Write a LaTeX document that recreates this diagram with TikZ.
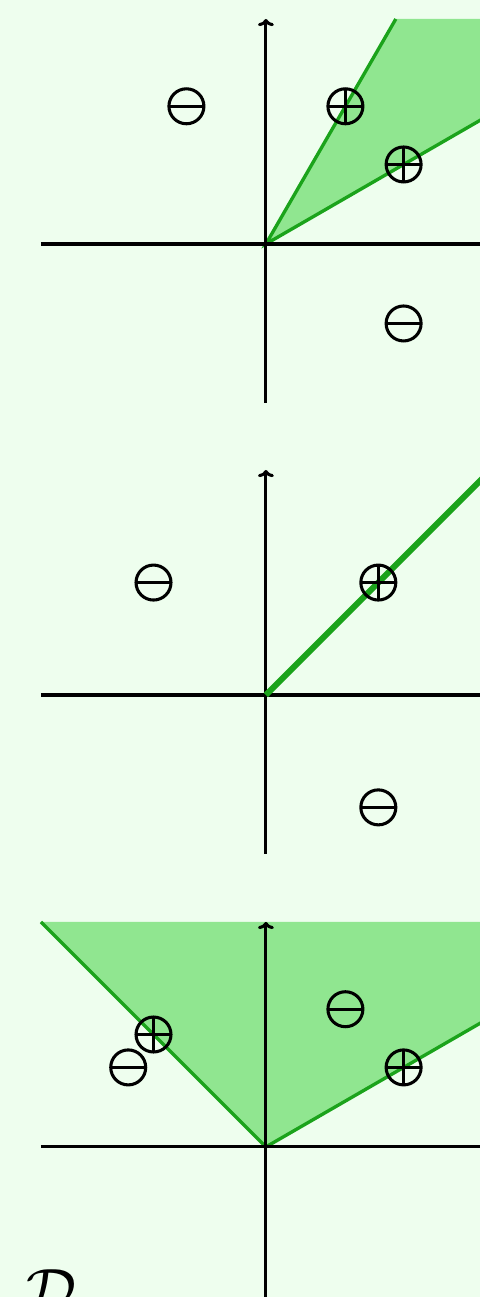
\documentclass[tikz,border=0pt]{standalone}
\usepackage{tikz}
\usetikzlibrary{arrows.meta}
\definecolor{paleGreen}{HTML}{EEFEEE}
\definecolor{coneGreen}{HTML}{90E690}
\definecolor{edgeGreen}{HTML}{1BA31B}

\begin{document}
\begin{tikzpicture}[
  ax/.style={line width=1.1pt, -{To[length=0.9mm,width=2mm]}},
  cone/.style={fill=coneGreen},
  bnd/.style={draw=edgeGreen, line width=1.2pt},
  sgn/.style={circle, draw, line width=1.1pt, minimum size=4.4mm, inner sep=0pt},
  plussign/.style={sgn, path picture={\draw[line width=1.1pt]
      (path picture bounding box.west) -- (path picture bounding box.east)
      (path picture bounding box.north) -- (path picture bounding box.south);}},
  minussign/.style={sgn, path picture={\draw[line width=1.1pt]
      (path picture bounding box.west) -- (path picture bounding box.east);}}
]
\useasboundingbox (-3.345,-13.246) rectangle (2.692,3.069);
\clip (-3.345,-13.246) rectangle (2.692,3.069);
\fill[paleGreen] (-3.345,-13.246) rectangle (2.692,3.069);

\begin{scope}
\coordinate (o1) at (0,0);
\fill[cone] (o1) -- (1.634,2.83) -- (3,2.83) -- (3,1.732) -- cycle;
\draw[bnd] (1.634,2.83) -- (o1) -- (3,1.732);
\draw[ax] (-2.83,0) -- (2.83,0);
\draw[ax] (0,-2) -- (0,2.83);
\node[minussign] (a1) at (-1,1.732) {};
\node[plussign] (a2) at (1,1.732) {};
\node[plussign] (a3) at (1.732,1) {};
\node[minussign] (a4) at (1.732,-1) {};
\end{scope}

\begin{scope}[yshift=-5.673cm]
\coordinate (o2) at (0,0);
\draw[ax] (-2.83,0) -- (2.83,0);
\draw[ax] (0,-2) -- (0,2.83);
\draw[bnd, line width=2.2pt] (o2) -- (2.83,2.83);
\node[minussign] (b1) at (-1.414,1.414) {};
\node[plussign] (b2) at (1.414,1.414) {};
\node[minussign] (b3) at (1.414,-1.414) {};
\end{scope}

\begin{scope}[yshift=-11.358cm]
\coordinate (o3) at (0,0);
\fill[cone] (o3) -- (-2.83,2.83) -- (3,2.83) -- (3,1.732) -- cycle;
\draw[bnd] (-2.83,2.83) -- (o3) -- (3,1.732);
\draw[ax] (-2.83,0) -- (2.83,0);
\draw[ax] (0,-2) -- (0,2.83);
\node[plussign] (c1) at (-1.414,1.414) {};
\node[minussign] (c2) at (-1.732,1) {};
\node[minussign] (c3) at (1,1.732) {};
\node[plussign] (c4) at (1.732,1) {};
\end{scope}

\node[inner sep=0pt, anchor=north west] (dset) at (-3.02,-12.893) {\scalebox{1.08}{\huge$\mathcal{D}$}};
\end{tikzpicture}
\end{document}
